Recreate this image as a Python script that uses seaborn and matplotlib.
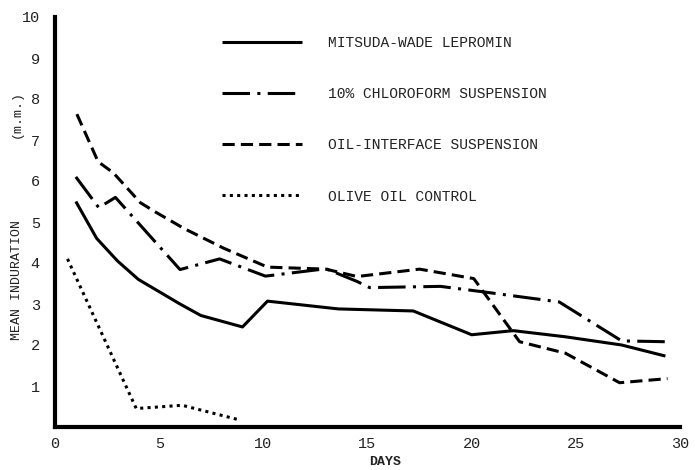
import matplotlib
matplotlib.use("Agg")
import matplotlib.pyplot as plt
import seaborn as sns

# Mean induration (mm) by day after injection
mw_days = [1, 2, 3, 4, 5, 6, 7, 9, 10.2, 13.6, 17.2, 20, 22, 24.5, 27.2, 29.3]
mw_vals = [5.5, 4.6, 4.05, 3.6, 3.3, 3.0, 2.72, 2.44, 3.07, 2.88, 2.83, 2.25, 2.35, 2.2, 2.0, 1.73]

chl_days = [1, 2.1, 2.9, 6.0, 7.9, 10.1, 13.0, 14.5, 15.1, 18.5, 20.5, 24.2, 27.2, 29.3]
chl_vals = [6.1, 5.35, 5.6, 3.84, 4.1, 3.68, 3.86, 3.55, 3.4, 3.43, 3.3, 3.05, 2.1, 2.08]

oil_days = [1.05, 2.07, 2.8, 4.1, 4.8, 6.2, 8.1, 10.2, 13.0, 14.5, 17.5, 20.1, 22.3, 24.5, 27.1, 29.4]
oil_vals = [7.63, 6.47, 6.2, 5.47, 5.25, 4.84, 4.36, 3.9, 3.85, 3.67, 3.85, 3.62, 2.08, 1.8, 1.08, 1.18]

olive_days = [0.6, 3.9, 6.1, 8.8]
olive_vals = [4.1, 0.45, 0.53, 0.18]

series_names = [
    "MITSUDA-WADE LEPROMIN",
    "10% CHLOROFORM SUSPENSION",
    "OIL-INTERFACE SUSPENSION",
    "OLIVE OIL CONTROL",
]

x_ticks = [0, 5, 10, 15, 20, 25, 30]
y_ticks = [1, 2, 3, 4, 5, 6, 7, 8, 9, 10]

sns.set_theme(style="white")
plt.rcParams["font.family"] = ["Liberation Mono", "DejaVu Sans Mono"]

W, H = 695, 470
fig = plt.figure(figsize=(W / 100, H / 100), dpi=100)
ax = fig.add_axes([55 / W, 1 - 427 / H, (680 - 55) / W, (427 - 17) / H])

lw = 2.2
styles = [
    (0, ()),
    (0, (9, 2.4, 1, 2.4)),
    (0, (4, 2)),
    (0, (1, 1.4)),
]
data = [(mw_days, mw_vals), (chl_days, chl_vals), (oil_days, oil_vals), (olive_days, olive_vals)]

for (xs, ys), name, ls in zip(data, series_names, styles):
    sns.lineplot(x=xs, y=ys, ax=ax, color="black", lw=lw, linestyle=ls,
                 label=name, sort=False)

ax.set_xlim(0, 30)
ax.set_ylim(0, 10)
ax.set_xticks(x_ticks)
ax.set_yticks(y_ticks)
ax.tick_params(axis="both", length=0, labelsize=11, colors="#222222")
ax.tick_params(axis="x", pad=7)
ax.tick_params(axis="y", pad=11)
for s in ["top", "right"]:
    ax.spines[s].set_visible(False)
for s in ["left", "bottom"]:
    ax.spines[s].set_linewidth(3)
    ax.spines[s].set_color("black")
ax.set_xlabel("")
ax.set_ylabel("")

fig.text(385 / W, 1 - 462 / H, "DAYS", ha="center", va="center",
         fontsize=9.5, fontweight="bold", color="#222222")
fig.text(17 / W, 1 - 280 / H, "MEAN INDURATION", ha="center", va="center",
         rotation=90, fontsize=9.5, color="#222222")
fig.text(17 / W, 1 - 114 / H, "(m.m.)", ha="center", va="center",
         rotation=90, fontsize=9.5, color="#222222")

handles, labels = ax.get_legend_handles_labels()
leg = ax.legend(handles, labels, loc="upper left",
                bbox_to_anchor=(222 / W, 1 - 36 / H), bbox_transform=fig.transFigure,
                frameon=False, fontsize=10.5, handlelength=5.5, handletextpad=1.8,
                labelspacing=2.55, borderpad=0, borderaxespad=0)
for t in leg.get_texts():
    t.set_color("#222222")

fig.savefig("out.png", dpi=100, facecolor="white")
